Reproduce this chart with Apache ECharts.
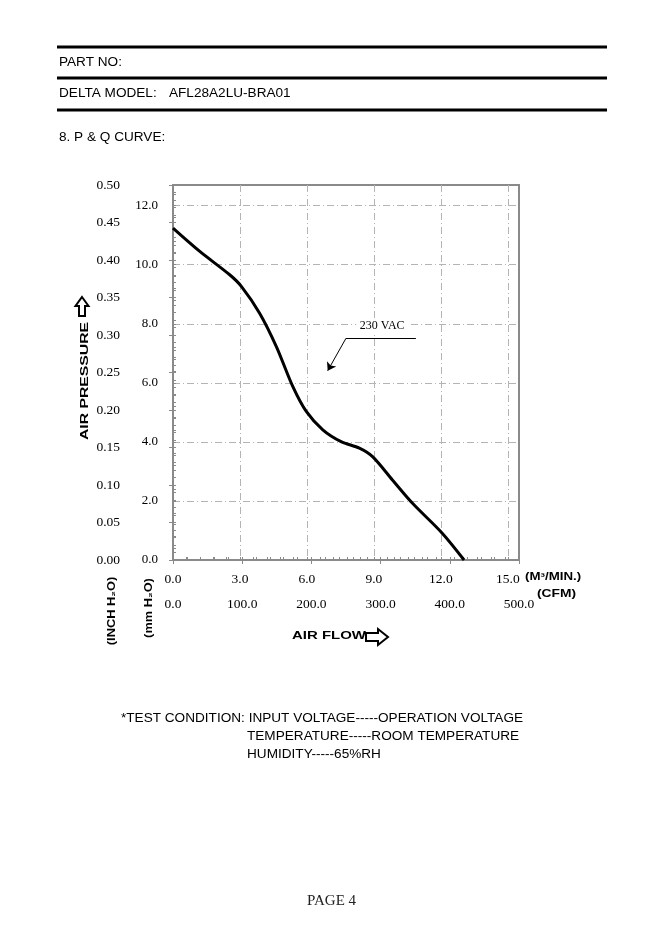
<!DOCTYPE html>
<html>
<head>
<meta charset="utf-8">
<script src="https://cdn.jsdelivr.net/npm/echarts@6/dist/echarts.min.js"></script>
<style>
html,body{margin:0;padding:0;background:#fff;}
#c{width:664px;height:932px;}
</style>
</head>
<body>
<div id="c"></div>
<script>
// ---- data (air flow in m3/min, static pressure in mmH2O) ----
var flowM3 = [0, 1.2, 2.54, 3.07, 3.88, 4.63, 5.37, 5.97, 6.71, 7.53, 8.35, 8.94, 9.83, 10.73, 12.07, 13.04];
var pressMM = [11.24, 10.45, 9.66, 9.26, 8.36, 7.23, 5.87, 5.03, 4.41, 4.01, 3.79, 3.50, 2.71, 1.92, 0.90, 0];
var seriesName = '230 VAC';
// annotation anchor points in data units [m3/min, mmH2O]
var noteText = [9.37, 7.93];
var noteLineStart = [7.75, 7.51];
var noteLineEnd = [10.88, 7.51];
var noteArrowEnd = [6.93, 6.41];
// axis ranges / tick steps
var m3Range = [0, 15.5], m3Step = 3;
var cfmRange = [0, 500], cfmStep = 100;
var mmRange = [0, 12.7], mmStep = 2;
var inchRange = [0, 0.5], inchStep = 0.05;

var pts = flowM3.map(function (q, i) { return [q, pressMM[i]]; });

var GRID_L = 173, GRID_T = 185, GRID_W = 346, GRID_H = 375;
var AX = '#8a8a8a';
var SERIF = '"Liberation Serif","Times New Roman",serif';
var SANS = '"Liberation Sans",Arial,sans-serif';
var BODY = '13.6px ' + SANS;
var gridLine = { show: true, showMinLine: false, showMaxLine: false,
  lineStyle: { color: '#b4b4b4', width: 1, type: [7, 3, 1, 3] } };

function isMult(v, s) { return Math.abs(v / s - Math.round(v / s)) < 1e-6; }

var chart = echarts.init(document.getElementById('c'), null, { renderer: 'canvas' });

function txt(x, y, text, font, extra) {
  var o = { type: 'text', x: x, y: y, silent: true,
    style: { text: text, font: font, fill: '#000', align: 'left', verticalAlign: 'middle' } };
  if (extra) { for (var k in extra) { if (k === 'style') { for (var s in extra.style) o.style[s] = extra.style[s]; } else o[k] = extra[k]; } }
  return o;
}
function hline(y) {
  return { type: 'line', silent: true, shape: { x1: 57, y1: y, x2: 607, y2: y }, style: { stroke: '#000', lineWidth: 3 } };
}

var option = {
  animation: false,
  backgroundColor: '#fff',
  grid: { left: GRID_L, top: GRID_T, width: GRID_W, height: GRID_H, show: true, borderColor: AX, borderWidth: 2, backgroundColor: 'transparent' },
  xAxis: [
    { type: 'value', min: m3Range[0], max: m3Range[1], interval: m3Step, position: 'bottom',
      axisLine: { show: false }, axisTick: { show: false },
      axisLabel: { margin: 12, color: '#000', fontFamily: SERIF, fontSize: 13.5,
        formatter: function (v) { return isMult(v, m3Step) ? v.toFixed(1) : ''; } },
      splitLine: gridLine },
    { type: 'value', min: m3Range[0], max: m3Range[1], interval: 0.6, position: 'bottom',
      axisLine: { show: false }, axisLabel: { show: false }, splitLine: { show: false },
      axisTick: { show: true, inside: true, length: 3, lineStyle: { color: AX } } },
    { type: 'value', min: cfmRange[0], max: cfmRange[1], interval: cfmStep, position: 'bottom', offset: 28,
      axisLine: { show: true, lineStyle: { color: AX, width: 1.5 } },
      axisTick: { show: true, length: 4, lineStyle: { color: AX } },
      axisLabel: { margin: 9, color: '#000', fontFamily: SERIF, fontSize: 13.5,
        formatter: function (v) { return v.toFixed(1); } },
      splitLine: { show: false } },
    { type: 'value', min: cfmRange[0], max: cfmRange[1], interval: 20, position: 'bottom', offset: 28,
      axisLine: { show: false }, axisLabel: { show: false }, splitLine: { show: false },
      axisTick: { show: true, inside: true, length: 3, lineStyle: { color: AX } } }
  ],
  yAxis: [
    { type: 'value', min: mmRange[0], max: mmRange[1], interval: mmStep, position: 'left',
      axisLine: { show: false }, axisTick: { show: false },
      axisLabel: { margin: 15, color: '#000', fontFamily: SERIF, fontSize: 13,
        formatter: function (v) { return isMult(v, mmStep) ? v.toFixed(1) : ''; } },
      splitLine: gridLine },
    { type: 'value', min: mmRange[0], max: mmRange[1], interval: 0.4, position: 'left',
      axisLine: { show: false }, axisLabel: { show: false }, splitLine: { show: false },
      axisTick: { show: true, inside: true, length: 3, lineStyle: { color: AX } } },
    { type: 'value', min: inchRange[0], max: inchRange[1], interval: inchStep, position: 'left', offset: 40,
      axisLine: { show: true, lineStyle: { color: AX, width: 1.5 } },
      axisTick: { show: true, length: 4, lineStyle: { color: AX } },
      axisLabel: { margin: 13, color: '#000', fontFamily: SERIF, fontSize: 13.5,
        formatter: function (v) { return v.toFixed(2); } },
      splitLine: { show: false } },
    { type: 'value', min: inchRange[0], max: inchRange[1], interval: 0.01, position: 'left', offset: 40,
      axisLine: { show: false }, axisLabel: { show: false }, splitLine: { show: false },
      axisTick: { show: true, inside: true, length: 3, lineStyle: { color: AX } } }
  ],
  series: [{
    name: seriesName, type: 'line', xAxisIndex: 0, yAxisIndex: 0,
    data: pts, smooth: 0.3, showSymbol: false, symbol: 'none',
    lineStyle: { color: '#000', width: 3 },
    markLine: {
      silent: true, symbol: ['none', 'none'], symbolSize: 8,
      label: { show: false },
      lineStyle: { color: '#000', width: 1, type: 'solid' },
      emphasis: { disabled: true },
      data: [
        [{ coord: noteLineStart }, { coord: noteLineEnd }],
        [{ coord: noteLineStart }, { coord: noteArrowEnd, symbol: 'arrow', symbolSize: 8 }]
      ]
    },
    markPoint: {
      silent: true, symbol: 'rect', symbolSize: [52, 13],
      itemStyle: { color: '#fff' },
      label: { show: true, position: 'inside', color: '#000', fontFamily: SERIF, fontSize: 12,
        formatter: function () { return seriesName; } },
      data: [{ coord: noteText }]
    }
  }],
  graphic: [
    hline(47), hline(78), hline(110),
    txt(59, 62, 'PART NO:', BODY),
    txt(59, 93, 'DELTA MODEL:', BODY),
    txt(169, 93, 'AFL28A2LU-BRA01', BODY),
    txt(59, 137, '8. P & Q CURVE:', BODY),
    // left axis titles
    txt(85, 381, 'AIR PRESSURE', 'bold 11.5px ' + SANS, { rotation: Math.PI / 2, scaleX: 1.37, style: { align: 'center' } }),
    { type: 'polygon', silent: true,
      shape: { points: [[82, 297], [88.5, 306], [85, 306], [85, 316], [79, 316], [79, 306], [75.5, 306]] },
      style: { fill: '#fff', stroke: '#000', lineWidth: 2 } },
    txt(112, 611, '(INCH H\u2082O)', 'bold 10.5px ' + SANS, { rotation: Math.PI / 2, scaleX: 1.22, style: { align: 'center' } }),
    txt(149, 608, '(mm H\u2082O)', 'bold 10.5px ' + SANS, { rotation: Math.PI / 2, scaleX: 1.22, style: { align: 'center' } }),
    // bottom axis units & title
    txt(525, 577, '(M\u00B3/MIN.)', 'bold 10px ' + SANS, { scaleX: 1.33 }),
    txt(537, 594, '(CFM)', 'bold 10px ' + SANS, { scaleX: 1.38 }),
    txt(292, 636, 'AIR FLOW', 'bold 11px ' + SANS, { scaleX: 1.36 }),
    { type: 'polygon', silent: true,
      shape: { points: [[366, 633], [378, 633], [378, 629], [388, 637], [378, 645], [378, 641], [366, 641]] },
      style: { fill: '#fff', stroke: '#000', lineWidth: 2 } },
    // test condition
    txt(121, 718, '*TEST CONDITION: INPUT VOLTAGE-----OPERATION VOLTAGE', BODY),
    txt(247, 736, 'TEMPERATURE-----ROOM TEMPERATURE', BODY),
    txt(247, 754, 'HUMIDITY-----65%RH', BODY),
    txt(307, 901, 'PAGE 4', '15px ' + SERIF, { style: { fill: '#222' } })
  ]
};
chart.setOption(option);
</script>
</body>
</html>
